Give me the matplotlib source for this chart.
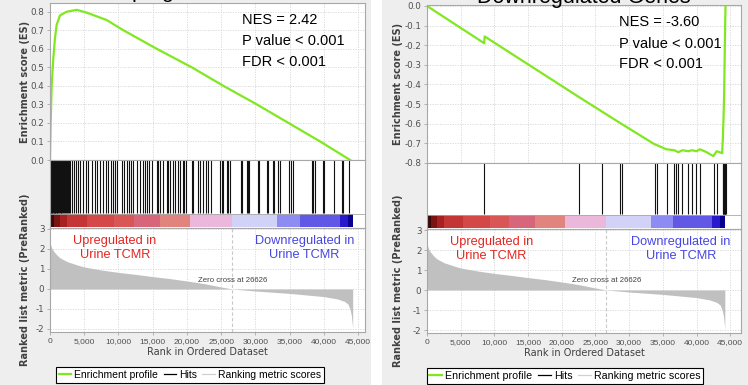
import matplotlib
matplotlib.use("Agg")
import matplotlib.pyplot as plt
from matplotlib.lines import Line2D
from matplotlib.patches import Rectangle

W, H = 748, 385

# ---------------- data ----------------
n_genes = 44200
zero_cross = 26626

metric_rank = [0, 250, 500, 1000, 1500, 2500, 4000, 5000, 7500, 10000, 12500, 15000,
               17500, 20000, 22500, 25000, 26626, 30000, 35000, 40000, 42000, 43000,
               43500, 43800, 44000, 44200]
metric_score = [2.3, 2.05, 1.9, 1.7, 1.55, 1.37, 1.2, 1.1, 0.95, 0.83, 0.73, 0.62,
                0.52, 0.4, 0.27, 0.1, 0.0, -0.1, -0.22, -0.38, -0.5, -0.62,
                -0.75, -1.0, -1.3, -1.95]

bar_edges = [0, 600, 1500, 2500, 5400, 9300, 12200, 16000, 20450, 26600, 33200,
             36500, 42300, 43500, 44200]
bar_colors = ["#3a0808", "#7a1414", "#a82020", "#c43535", "#d44848", "#d85656",
              "#d8667a", "#e2847e", "#ebb8dc", "#d2d2f8", "#8c8cf2", "#6258e6",
              "#2a18cc", "#0a0090"]

up_es_rank = [0, 97, 243, 487, 730, 974, 1461, 1948, 2435, 3896, 5357, 6818, 8279,
              10714, 15584, 20698, 25324, 30194, 34821, 39447, 43830]
up_es_value = [0.0, 0.2, 0.4, 0.55, 0.66, 0.73, 0.78, 0.79, 0.80, 0.81, 0.795, 0.775,
               0.755, 0.70, 0.60, 0.50, 0.40, 0.30, 0.20, 0.10, 0.0]
up_hits = [0, 60, 130, 200, 280, 350, 430, 520, 600, 700, 790, 880, 980, 1080, 1190,
           1300, 1420, 1540, 1660, 1790, 1920, 2050, 2200, 2350, 2500, 2650, 2800,
           2980, 3150, 3506, 3800, 4140, 4380, 4870, 5260, 5600, 6090, 6570, 6820,
           7300, 7790, 8180, 8520, 8910, 9150, 9500, 9840, 10470, 10810, 11200,
           11590, 11830, 12180, 12660, 13150, 13540, 13880, 14120, 14510, 14850,
           15580, 15830, 16070, 16560, 17050, 17290, 17530, 17920, 18260, 18750,
           18990, 19380, 19580, 19820, 20700, 20940, 21670, 21920, 22400, 22790,
           23130, 23470, 24840, 25080, 25230, 25810, 26050, 26300, 27860, 28100,
           28730, 28980, 29120, 30440, 30580, 31650, 31900, 32530, 32730, 33360,
           33600, 34970, 35210, 35450, 38230, 38470, 38720, 39840, 40030, 41400,
           42610, 42860, 43730]

down_es_rank = [0, 8500, 8550, 22600, 28600, 33800, 34200, 35500, 36700, 37300, 37900,
                38800, 39300, 40000, 40500, 41500, 42500, 43000, 43800, 43900, 44000,
                44100, 44200, 44300]
down_es_value = [0.0, -0.19, -0.155, -0.465, -0.595, -0.705, -0.71, -0.73, -0.735,
                 -0.745, -0.735, -0.74, -0.735, -0.74, -0.73, -0.745, -0.765, -0.74,
                 -0.75, -0.68, -0.58, -0.45, -0.2, 0.0]
down_hits = [8510, 22620, 25945, 28663, 29005, 33861, 34203, 35599, 36683, 36980,
             37322, 37916, 38807, 39312, 39950, 40545, 42520, 43025, 43920, 43980,
             44040, 44100, 44160, 44220, 44280, 44340]

titles = ["Upregulated Genes", "Downregulated Genes"]
stats = [["NES = 2.42", "P value < 0.001", "FDR < 0.001"],
         ["NES = -3.60", "P value < 0.001", "FDR < 0.001"]]
es_ticks = [[0.0, 0.1, 0.2, 0.3, 0.4, 0.5, 0.6, 0.7, 0.8],
            [0.0, -0.1, -0.2, -0.3, -0.4, -0.5, -0.6, -0.7, -0.8]]
metric_ticks = [3, 2, 1, 0, -1, -2]
rank_ticks = [0, 5000, 10000, 15000, 20000, 25000, 30000, 35000, 40000, 45000]
up_label = "Upregulated in\nUrine TCMR"
down_label = "Downregulated in\nUrine TCMR"
legend_labels = ["Enrichment profile", "Hits", "Ranking metric scores"]

# ---------------- styling ----------------
GREEN = "#80e820"
BG = "#eeeeee"
FRAME = "#a8a8a8"
GRID = "#d6d6d6"
TICKC = "#505050"
NARROW = ["Liberation Sans Narrow", "Liberation Sans", "DejaVu Sans"]
SANS = ["Liberation Sans", "DejaVu Sans"]

fig = plt.figure(figsize=(W / 100, H / 100), dpi=100)
fig.patch.set_facecolor("white")
fig.patches.append(Rectangle((0, 0), 371 / W, 1, transform=fig.transFigure,
                             facecolor=BG, edgecolor="none", zorder=-10))
fig.patches.append(Rectangle((382 / W, 0), (W - 382) / W, 1, transform=fig.transFigure,
                             facecolor=BG, edgecolor="none", zorder=-10))


def px_axes(x0, y0, x1, y1):
    return fig.add_axes([x0 / W, 1 - y1 / H, (x1 - x0) / W, (y1 - y0) / H])


def style(ax):
    for s in ax.spines.values():
        s.set_color(FRAME)
        s.set_linewidth(0.8)
    ax.set_facecolor("white")
    ax.tick_params(length=2, width=0.6, color=FRAME, labelcolor=TICKC, pad=2)


panels = [
    dict(x0=50, x1=365, es_top=3, es_bot=160, hit_bot=228, met_bot=332, xmax=46000,
         ylim=(0.0, 0.847), es_rank=up_es_rank, es_val=up_es_value, hits=up_hits,
         title_y=-1.5, title_size=15, stat_x=242, stat_y=[20, 41, 62], leg=(190, 375),
         leg_size=7.5, lab_x=30),
    dict(x0=427, x1=741, es_top=5, es_bot=163, hit_bot=229, met_bot=333, xmax=46600,
         ylim=(-0.8, 0.005), es_rank=down_es_rank, es_val=down_es_value, hits=down_hits,
         title_y=2.5, title_size=15.5, stat_x=619, stat_y=[22, 44, 64], leg=(565, 376),
         leg_size=7.7, lab_x=403),
]

for i, p in enumerate(panels):
    # --- enrichment score axes
    ax = px_axes(p["x0"], p["es_top"], p["x1"], p["es_bot"])
    style(ax)
    ax.plot(p["es_rank"], p["es_val"], color=GREEN, lw=1.6, solid_joinstyle="round")
    ax.set_xlim(0, p["xmax"])
    ax.set_ylim(*p["ylim"])
    ax.set_yticks(es_ticks[i])
    ax.set_yticklabels([f"{t:.1f}" for t in es_ticks[i]], fontsize=6.3)
    ax.set_xticks(rank_ticks)
    ax.tick_params(axis="x", length=0, labelbottom=False)
    ax.grid(True, color=GRID, lw=0.6, ls=(0, (1.5, 1.5)))
    ax.set_axisbelow(True)
    ax.set_ylabel("Enrichment score (ES)", fontsize=7, fontweight="bold",
                  color="#404040")
    for j, s in enumerate(stats[i]):
        fig.text(p["stat_x"] / W, 1 - p["stat_y"][j] / H, s, fontsize=10.5,
                 family=SANS, va="center", ha="left", color="black")
    fig.text((p["x0"] + p["x1"]) / 2 / W, 1 - p["title_y"] / H, titles[i],
             fontsize=p["title_size"], family=SANS, ha="center",
             va="baseline", color="black")

    # --- hits + colour bar axes
    hx = px_axes(p["x0"], p["es_bot"], p["x1"], p["hit_bot"])
    style(hx)
    hx.set_xlim(0, p["xmax"])
    hx.set_ylim(0, 1)
    hx.set_xticks([])
    hx.set_yticks([])
    hx.vlines(p["hits"], 0.22, 1.0, color="#111111", lw=0.8)
    for k in range(len(bar_colors)):
        hx.add_patch(Rectangle((bar_edges[k], 0.015), bar_edges[k + 1] - bar_edges[k],
                               0.19, facecolor=bar_colors[k], edgecolor="none"))
    hx.axhline(0.213, color=FRAME, lw=0.6)

    # --- ranked list metric axes
    mx = px_axes(p["x0"], p["hit_bot"], p["x1"], p["met_bot"])
    style(mx)
    mx.fill_between(metric_rank, metric_score, 0, color="#c0c0c0", lw=0)
    mx.set_xlim(0, p["xmax"])
    mx.set_ylim(-2.15, 3.05)
    mx.set_yticks(metric_ticks)
    mx.set_yticklabels([str(t) for t in metric_ticks], fontsize=6.3)
    mx.set_xticks(rank_ticks)
    mx.set_xticklabels([f"{t:,}" for t in rank_ticks], fontsize=6.0, family=NARROW)
    mx.grid(True, color=GRID, lw=0.6, ls=(0, (1.5, 1.5)))
    mx.set_axisbelow(True)
    mx.axvline(zero_cross, color="#c8c8c8", lw=0.8, ls=(0, (3, 2)))
    mx.text(zero_cross, 0.45, f"Zero cross at {zero_cross}", fontsize=5.6,
            family=NARROW, color="#404040", ha="center", va="center")
    mx.text(0.206, 0.81, up_label, transform=mx.transAxes, color="#e52520",
            fontsize=9.2, family=SANS, ha="center", va="center", linespacing=1.2)
    mx.text(0.808, 0.81, down_label, transform=mx.transAxes, color="#4646e0",
            fontsize=9.2, family=SANS, ha="center", va="center", linespacing=1.2)
    mx.set_xlabel("Rank in Ordered Dataset", fontsize=7, color="#404040", labelpad=2)
    mx.set_ylabel("Ranked list metric (PreRanked)", fontsize=7, fontweight="bold",
                  color="#404040")

    # align y labels
    for a in (ax, mx):
        a.yaxis.set_label_coords((p["lab_x"] - p["x0"]) / (p["x1"] - p["x0"]), 0.5)

    # --- legend
    handles = [Line2D([], [], color=GREEN, lw=1.6), Line2D([], [], color="black", lw=0.9),
               Line2D([], [], color="#d0d0d0", lw=0.9)]
    leg = fig.legend(handles, legend_labels, loc="center",
                     bbox_to_anchor=(p["leg"][0] / W, 1 - p["leg"][1] / H), ncol=3,
                     prop={"family": NARROW, "size": p["leg_size"]},
                     frameon=True, fancybox=False, edgecolor="black", framealpha=1,
                     handlelength=1.2, handletextpad=0.3, columnspacing=0.5,
                     borderpad=0.25, borderaxespad=0)
    leg.get_frame().set_linewidth(0.8)

fig.savefig("out.png", dpi=100, facecolor=fig.get_facecolor())
